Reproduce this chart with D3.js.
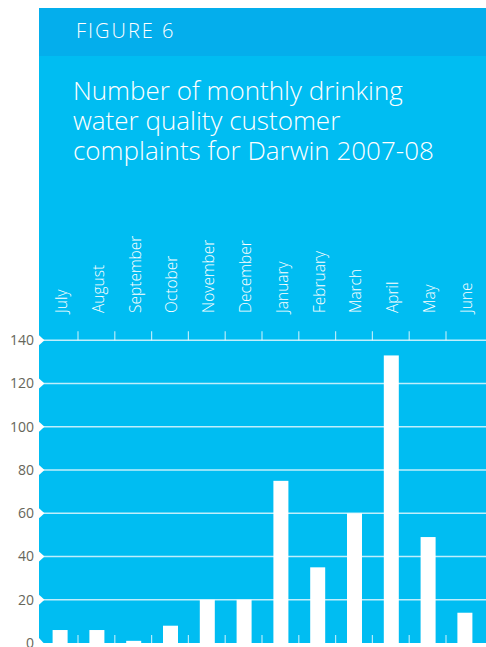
<html>
<script src="https://d3js.org/d3.v7.min.js"></script>
<style>
body {margin: 0; background: white;}
text {font-family: "Open Sans", sans-serif;}
</style>
<body>
<svg id="chart" width="486" height="647"></svg>
<script>
// monthly complaints, Darwin 2007-08
const months = ["July","August","September","October","November","December","January","February","March","April","May","June"];
const complaints = [6, 6, 1, 8, 20, 20, 75, 35, 60, 133, 49, 14];
const yTicks = [0, 20, 40, 60, 80, 100, 120, 140];
const titleLines = ["Number of monthly drinking", "water quality customer", "complaints for Darwin 2007-08"];

const svg = d3.select("#chart");
const panelLeft = 39, panelTop = 8, headerBottom = 56, panelBottom = 643;

// panel background
svg.append("rect").attr("x", panelLeft).attr("y", panelTop)
  .attr("width", 486 - panelLeft).attr("height", panelBottom - panelTop)
  .attr("fill", "#00bdf2");
svg.append("rect").attr("x", panelLeft).attr("y", panelTop)
  .attr("width", 486 - panelLeft).attr("height", headerBottom - panelTop)
  .attr("fill", "#04aeec");

svg.append("text").attr("x", 76).attr("y", 38)
  .attr("fill", "white").style("font-size", "20px").style("letter-spacing", "2px")
  .style("font-weight", 300)
  .text("FIGURE 6");

svg.append("g").selectAll("text").data(titleLines).enter().append("text")
  .attr("x", 73).attr("y", (d, i) => 100 + i * 30)
  .attr("fill", "white").style("font-size", "26px").style("font-weight", 300)
  .text(d => d);

const x = d3.scaleBand().domain(months).range([41.2, 482.8]).padding(0);
const y = d3.scaleLinear().domain([0, 140]).range([643, 340.3]);
const barW = 15;

// gridlines
svg.append("g").selectAll("line").data(yTicks.filter(d => d > 0)).enter().append("line")
  .attr("x1", panelLeft).attr("x2", 486)
  .attr("y1", d => y(d)).attr("y2", d => y(d))
  .attr("stroke", "rgba(255,255,255,0.75)").attr("stroke-width", 1.5);

// month boundary ticks top and bottom
const bounds = months.slice(1).map(m => x(m));
svg.append("g").selectAll("line").data(bounds).enter().append("line")
  .attr("x1", d => d).attr("x2", d => d)
  .attr("y1", y(140) - 9).attr("y2", y(140))
  .attr("stroke", "rgba(255,255,255,0.7)").attr("stroke-width", 1.2);
svg.append("g").selectAll("line").data(bounds).enter().append("line")
  .attr("x1", d => d).attr("x2", d => d)
  .attr("y1", y(0) - 8).attr("y2", y(0))
  .attr("stroke", "rgba(255,255,255,0.7)").attr("stroke-width", 1.2);

// bars
svg.append("g").selectAll("rect").data(complaints).enter().append("rect")
  .attr("x", (d, i) => x(months[i]) + (x.bandwidth() - barW) / 2 + 0.5)
  .attr("y", d => y(d))
  .attr("width", barW)
  .attr("height", d => y(0) - y(d))
  .attr("fill", "white");

// white notches on the left edge at each gridline
svg.append("g").selectAll("path").data(yTicks).enter().append("path")
  .attr("d", d => {
    const yy = y(d);
    if (d === 0) return `M${panelLeft},${yy - 5}L${panelLeft + 5},${yy + 0.5}L${panelLeft},${yy + 0.5}Z`;
    return `M${panelLeft},${yy - 5}L${panelLeft + 5.5},${yy}L${panelLeft},${yy + 5}Z`;
  })
  .attr("fill", "white");

// y axis labels
svg.append("g").selectAll("text").data(yTicks).enter().append("text")
  .attr("x", 34).attr("y", d => y(d)).attr("dy", "0.35em")
  .attr("text-anchor", "end").attr("fill", "#66665a")
  .style("font-size", "14px")
  .text(d => d);

// month labels, rotated
svg.append("g").selectAll("text").data(months).enter().append("text")
  .attr("transform", d => `translate(${x(d) + x.bandwidth() / 2 + 2},313) rotate(-90)`)
  .attr("dy", "0.35em")
  .attr("fill", "white").style("font-size", "15.5px").style("font-weight", 300)
  .text(d => d);
</script>
</body>
</html>
